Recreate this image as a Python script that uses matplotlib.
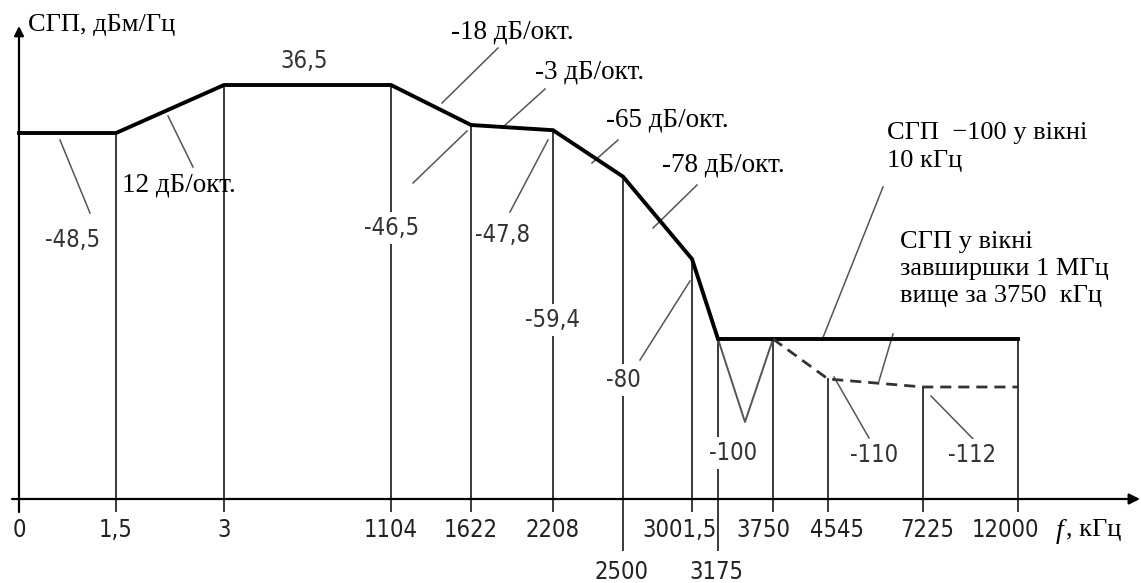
import matplotlib
matplotlib.use("Agg")
import matplotlib.pyplot as plt
from matplotlib import font_manager
from matplotlib.font_manager import FontProperties

# Breakpoint frequencies of the PSD mask (kHz) and their tick labels
freq_labels = ["0", "1,5", "3", "1104", "1622", "2208", "2500",
               "3001,5", "3175", "3750", "4545", "7225", "12000"]
# PSD level at each breakpoint of the upper (solid) mask, dBm/Hz
mask_freqs = ["0", "1,5", "3", "1104", "1622", "2208", "2500", "3001,5", "3175", "12000"]
mask_psd = [-48.5, -48.5, -36.5, -36.5, -46.5, -47.8, -59.4, -80.0, -100.0, -100.0]
# PSD in 1 MHz window above 3750 kHz (dashed)
wide_freqs = ["3750", "4545", "7225", "12000"]
wide_psd = [-100.0, -110.0, -112.0, -112.0]
# Slopes between breakpoints, dB/octave
slopes = [12, -18, -3, -65, -78]

# Schematic (non-uniform) horizontal placement of each breakpoint
slot = dict(zip(freq_labels,
                [19, 116, 224, 391, 471, 553, 623, 692, 718, 773, 828, 923, 1018]))

W, H = 1141, 583
AXIS = -140.0          # level where the frequency axis is drawn
PX_PER_DB = 4.0
Y_TOP_LEVEL = -36.5
Y_TOP_PX = 85


def yl(px):
    """level on the vertical scale that lies at a given row of the figure"""
    return Y_TOP_LEVEL - (px - Y_TOP_PX) / PX_PER_DB


# pick a narrow sans face for numbers if one is installed
narrow_file = None
for f in font_manager.fontManager.ttflist:
    if ("Narrow" in f.name or f.stretch in ("condensed", "semi-condensed")) \
            and f.style == "normal" and f.weight in (400, "normal", "regular") \
            and "Mono" not in f.name and "Serif" not in f.name:
        narrow_file = f.fname
        break
if narrow_file:
    NUM = dict(fontproperties=FontProperties(fname=narrow_file))
    NUM_SIZE = 17
else:
    NUM = dict(family="DejaVu Sans")
    NUM_SIZE = 14
SERIF = "Liberation Serif"

fig = plt.figure(figsize=(W / 100, H / 100), dpi=100)
ax = fig.add_axes([0, 0, 1, 1])
ax.set_xlim(0, W)
ax.set_ylim(yl(H), yl(0))
ax.axis("off")

lvl = dict(zip(mask_freqs, mask_psd))
lvl.update(dict(zip(wide_freqs[1:3], wide_psd[1:3])))
lvl["3750"] = wide_psd[0]


def num_text(x, y, s, size, **kw):
    t = ax.text(x, y, s, **NUM, **kw)
    t.set_fontsize(size)
    return t


# axes with arrows
ax.annotate("", xy=(1140, AXIS), xytext=(12, AXIS),
            arrowprops=dict(arrowstyle="-|>", lw=1.6, color="black",
                            mutation_scale=16, shrinkA=0, shrinkB=0))
ax.annotate("", xy=(slot["0"], yl(26)), xytext=(slot["0"], yl(512)),
            arrowprops=dict(arrowstyle="-|>", lw=1.6, color="black",
                            mutation_scale=14, shrinkA=0, shrinkB=0))

# vertical lines from axis up to the mask
vc = "#3a3a3a"
for name in freq_labels[1:]:
    x = slot[name]
    top = lvl[name]
    bottom = yl(550) if name in ("2500", "3175") else yl(511)
    ax.plot([x, x], [bottom, top], color=vc, lw=1.4, zorder=2)

# mask curves
ax.plot([slot[f] for f in mask_freqs], mask_psd, color="black", lw=2.8,
        solid_joinstyle="miter", zorder=4)
ax.plot([slot[f] for f in wide_freqs], wide_psd, color="#333333", lw=2.0,
        dashes=(4, 2.5), zorder=4)

# notch within the 10 kHz window
notch_x = [slot["3175"], 745, slot["3750"]]
notch_y = [-100.0, yl(422), -100.0]
ax.plot(notch_x, notch_y, color="#555555", lw=1.4, zorder=3)

# tick labels
tick_x = {"0": 19, "1,5": 116, "3": 224, "1104": 391, "1622": 471, "2208": 553,
          "3001,5": 680, "3750": 763, "4545": 837, "7225": 927, "12000": 1005,
          "2500": 621, "3175": 716}
for name in freq_labels:
    y = 572 if name in ("2500", "3175") else 530
    num_text(tick_x[name], yl(y), name, NUM_SIZE, ha="center", va="center",
             color="#222222")
ax.text(1056, yl(531), "f", ha="left", va="center", fontsize=20, family=SERIF,
        fontstyle="italic")
ax.text(1066, yl(530), ", кГц", ha="left", va="center", fontsize=19, family=SERIF)
ax.text(28, yl(25), "СГП, дБм/Гц", ha="left", va="center", fontsize=19, family=SERIF)

lc = "#555555"
bb = dict(facecolor="white", edgecolor="none", pad=1.5)


def leader(x0, y0, x1, y1):
    ax.plot([x0, x1], [yl(y0), yl(y1)], color=lc, lw=1.1, zorder=3)


def value_label(val, x, y, size=None, signed=True):
    v = val if signed else abs(val)
    txt = ("%g" % v).replace(".", ",")
    num_text(x, yl(y), txt, size or NUM_SIZE, ha="center", va="center",
             color="#333333", bbox=bb, zorder=5)


# level labels
value_label(mask_psd[0], 73, 240)
leader(60, 140, 90, 213)
value_label(mask_psd[2], 304, 61, signed=False)
value_label(mask_psd[4], 392, 228)
leader(413, 183, 467, 131)
value_label(mask_psd[5], 503, 235)
leader(510, 212, 548, 140)
value_label(mask_psd[6], 553, 320)
value_label(mask_psd[7], 623, 380)
leader(640, 360, 690, 281)
value_label(mask_psd[8], 733, 453)
value_label(wide_psd[1], 874, 455)
leader(869, 438, 834, 377)
value_label(wide_psd[2], 972, 455)
leader(979, 445, 931, 396)


# slope labels
def slope_label(s, x, y):
    ax.text(x, yl(y), "%d дБ/окт." % s, ha="center", va="center",
            fontsize=19.5, family=SERIF, zorder=5)


slope_label(slopes[0], 179, 185)
leader(168, 116, 193, 167)
slope_label(slopes[1], 512, 32)
leader(498, 48, 442, 103)
slope_label(slopes[2], 590, 72)
leader(545, 89, 503, 127)
slope_label(slopes[3], 667, 120)
leader(618, 140, 592, 163)
slope_label(slopes[4], 723, 165)
leader(697, 185, 653, 228)

# window notes
ax.text(887, yl(147), "СГП  −100 у вікні\n10 кГц", ha="left", va="center",
        fontsize=19, family=SERIF, linespacing=1.4)
leader(883, 187, 822, 340)
ax.text(900, yl(269), "СГП у вікні\nзавширшки 1 МГц\nвище за 3750  кГц", ha="left",
        va="center", fontsize=19, family=SERIF, linespacing=1.32)
leader(893, 334, 879, 381)

fig.savefig("out.png", dpi=100, facecolor="white")
